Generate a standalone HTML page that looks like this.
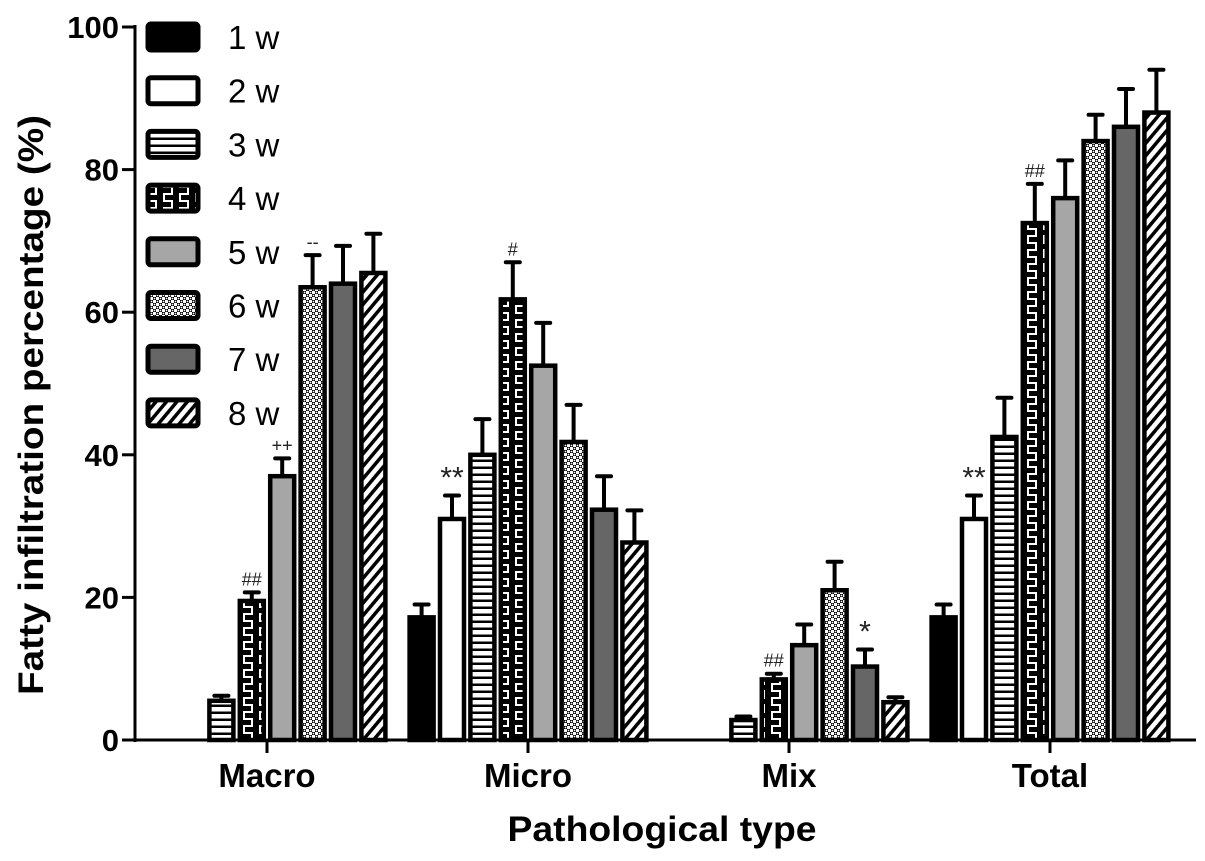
<!DOCTYPE html>
<html><head><meta charset="utf-8"><style>
html,body{margin:0;padding:0;background:#fff;}
svg{display:block;font-family:"Liberation Sans",Arial,sans-serif;}
</style></head><body>
<svg id="chart" width="1205" height="861" viewBox="0 0 1205 861" xmlns="http://www.w3.org/2000/svg">
<defs>
<pattern id="p3" patternUnits="userSpaceOnUse" width="8" height="7"><rect width="8" height="7" fill="#fff"/><rect y="4.5" width="8" height="2.5" fill="#000"/></pattern>
<pattern id="p4" patternUnits="userSpaceOnUse" width="16" height="14"><rect width="16" height="14" fill="#000"/><path d="M4 0V5H12V12H4V14" stroke="#fff" stroke-width="2" fill="none"/></pattern>
<pattern id="p6" patternUnits="userSpaceOnUse" width="6" height="6"><rect width="6" height="6" fill="#fff"/><rect width="3" height="3" fill="#000"/><rect x="3" y="3" width="3" height="3" fill="#000"/><circle cx="1.5" cy="1.5" r="0.9" fill="#fff"/><circle cx="4.5" cy="4.5" r="0.9" fill="#fff"/></pattern>
<pattern id="p8" patternUnits="userSpaceOnUse" width="8" height="8" patternTransform="rotate(40)"><rect width="8" height="8" fill="#fff"/><rect width="3.5" height="8" fill="#000"/></pattern>
</defs>
<g id="axes"></g>
<g id="bars"></g>
<g id="legend"></g>
</svg>
<script>
const categories = ["Macro","Micro","Mix","Total"];
const series = ["1 w","2 w","3 w","4 w","5 w","6 w","7 w","8 w"];
const w1 = [0, 17.2, 0, 17.2];
const w2 = [0, 31, 0, 31];
const w3 = [5.5, 40, 2.8, 42.5];
const w4 = [19.5, 61.8, 8.5, 72.5];
const w5 = [37, 52.5, 13.3, 76];
const w6 = [63.5, 41.8, 21, 84];
const w7 = [64, 32.3, 10.3, 86];
const w8 = [65.5, 27.7, 5.3, 88];
const e1 = [0, 1.8, 0, 1.8];
const e2 = [0, 3.3, 0, 3.3];
const e3 = [0.7, 5, 0.5, 5.5];
const e4 = [1.2, 5.2, 0.8, 5.5];
const e5 = [2.5, 6, 2.9, 5.3];
const e6 = [4.5, 5.2, 4, 3.7];
const e7 = [5.3, 4.7, 2.4, 5.3];
const e8 = [5.5, 4.5, 0.7, 6];
const yTicks = [0,20,40,60,80,100];
const annotations = [[0,3,"##"],[0,4,"++"],[0,5,"--"],[1,1,"**"],[1,3,"#"],[2,3,"##"],[2,6,"*"],[3,1,"**"],[3,3,"##"]];

const vals=[w1,w2,w3,w4,w5,w6,w7,w8], errs=[e1,e2,e3,e4,e5,e6,e7,e8];
const fills=["#000","#fff","url(#p3)","url(#p4)","#a6a6a6","url(#p6)","#666","url(#p8)"];
const NS="http://www.w3.org/2000/svg";
const X0=135, X1=1196, Y0=740, Y100=27;
const y=v=>Y0-(v/100)*(Y0-Y100);
const xc=i=>267+i*261;
const pitch=30.4, bw=24;
function mk(t,a,p){const e=document.createElementNS(NS,t);for(const k in a)e.setAttribute(k,a[k]);p.appendChild(e);return e;}
const ax=document.getElementById('axes'), bg=document.getElementById('bars'), lg=document.getElementById('legend');
let yl=mk('line',{x1:X0,y1:Y100-2,x2:X0,y2:Y0+2,stroke:'#000','stroke-width':3},ax);


let xl=mk('line',{x1:X0-1,y1:Y0,x2:X1,y2:Y0,stroke:'#000','stroke-width':3},ax);


yTicks.forEach(t=>{
  mk('line',{x1:X0-13,y1:y(t),x2:X0,y2:y(t),stroke:'#000','stroke-width':3},ax);
  const tx=mk('text',{x:119,y:y(t)+11,'text-anchor':'end','font-size':31,'font-weight':'bold'},ax);
  tx.textContent=t;
  
  
});
categories.forEach((c,i)=>{
  mk('line',{x1:xc(i),y1:Y0,x2:xc(i),y2:Y0+13,stroke:'#000','stroke-width':3},ax);
  const tx=mk('text',{x:xc(i),y:787,'text-anchor':'middle','font-size':33,'font-weight':'bold'},ax);
  tx.textContent=c;
  
  
});
let xt=mk('text',{x:662,y:841,'text-anchor':'middle','font-size':35,'font-weight':'bold',textLength:309,lengthAdjust:'spacingAndGlyphs'},ax);
xt.textContent='Pathological type';


let ytt=mk('text',{x:0,y:0,'text-anchor':'middle','font-size':35,'font-weight':'bold',textLength:580,lengthAdjust:'spacingAndGlyphs',transform:'translate(43,405) rotate(-90)'},ax);
ytt.textContent='Fatty infiltration percentage (%)';



categories.forEach((c,i)=>{
  series.forEach((s,j)=>{
    const v=vals[j][i]; if(v<=0) return;
    const cx=xc(i)+(j-3.5)*pitch;
    const top=y(v), et=y(v+errs[j][i]);
    const ln=mk('line',{x1:cx,y1:top,x2:cx,y2:et,stroke:'#000','stroke-width':4},bg);
    
    
    mk('line',{x1:cx-7,y1:et,x2:cx+7,y2:et,stroke:'#000','stroke-width':4,'stroke-linecap':'round'},bg);
    const r=mk('rect',{x:cx-bw/2,y:top,width:bw,height:Y0-top,fill:fills[j],stroke:'#000','stroke-width':4.5},bg);
    
    
  });
});
annotations.forEach(a=>{
  const [i,j,t]=a;
  const cx=xc(i)+(j-3.5)*pitch;
  const et=y(vals[j][i]+errs[j][i]);
  const big=t.indexOf('*')>=0;
  const tx=mk('text',{x:cx,y:big?et-8:et-7,'text-anchor':'middle','font-size':big?30:18,fill:'#222'},bg);
  tx.textContent=t;
  
  
});
series.forEach((s,j)=>{
  const yy=37+j*53.7;
  const r=mk('rect',{x:148,y:yy-13,width:50,height:26,rx:3,fill:fills[j],stroke:'#000','stroke-width':5},lg);
  
  
  const tx=mk('text',{x:228,y:yy+12,'font-size':33},lg);
  tx.textContent=s;
  
  
});
</script>
</body></html>
